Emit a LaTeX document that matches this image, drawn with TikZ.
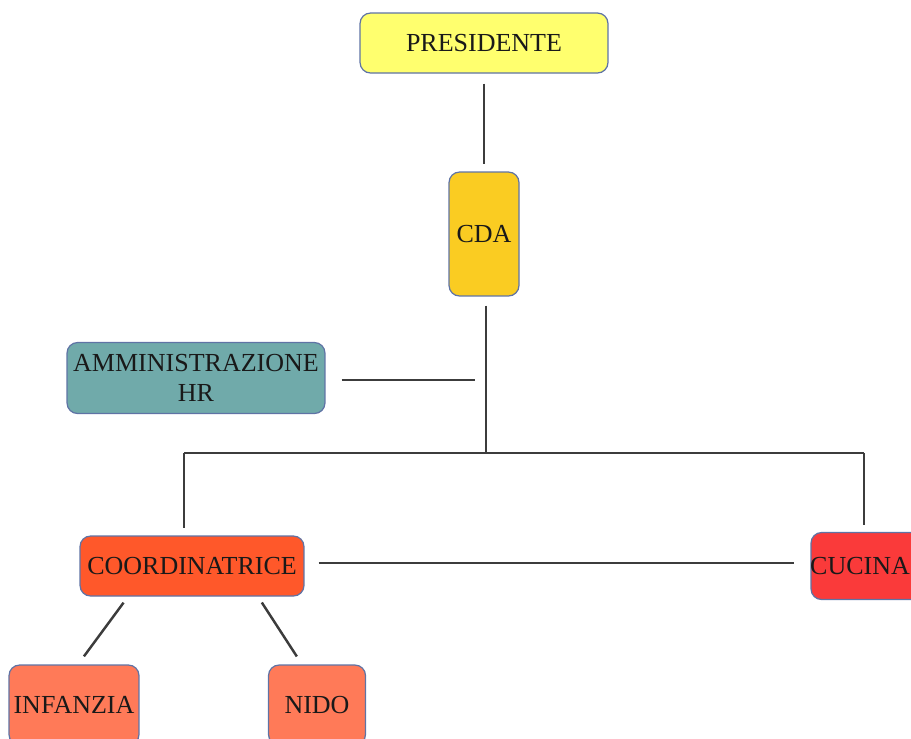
\documentclass[tikz,border=0pt]{standalone}
\usepackage{fontspec}
\setmainfont{Liberation Serif}

\definecolor{presyellow}{RGB}{255,255,110}
\definecolor{cdagold}{RGB}{250,204,34}
\definecolor{hrteal}{RGB}{112,170,170}
\definecolor{coordred}{RGB}{255,88,42}
\definecolor{cucinared}{RGB}{250,58,58}
\definecolor{unitorange}{RGB}{255,122,88}
\definecolor{boxline}{RGB}{95,115,165}
\definecolor{linkgray}{RGB}{60,60,60}

\begin{document}
\begin{tikzpicture}[x=0.02cm, y=-0.02cm,
    box/.style={draw=boxline, line width=0.7pt, rounded corners=6pt, align=center,
      inner sep=0pt, font=\fontsize{14.8}{17}\selectfont, text=black!90},
    link/.style={draw=linkgray, line width=1.4pt}]
    \useasboundingbox (0, 0) rectangle (911, 738);
    \node [box, fill=presyellow, minimum width=4.96cm, minimum height=1.2cm] (pres) at (484, 43) {PRESIDENTE};
    \node [box, fill=cdagold, minimum width=1.4cm, minimum height=2.48cm] (cda) at (484, 234) {CDA};
    \node [box, fill=hrteal, minimum width=5.16cm, minimum height=1.42cm] (hr) at (196, 378) {AMMINISTRAZIONE\\HR};
    \node [box, fill=coordred, minimum width=4.48cm, minimum height=1.2cm] (coord) at (192, 566) {COORDINATRICE};
    \node [box, fill=cucinared, minimum width=2.28cm, minimum height=1.34cm] (cucina) at (868, 566) {\hspace*{-0.32cm}CUCINA};
    \node [box, fill=unitorange, minimum width=2.6cm, minimum height=1.6cm] (infanzia) at (74, 705) {INFANZIA};
    \node [box, fill=unitorange, minimum width=1.94cm, minimum height=1.6cm] (nido) at (317, 705) {NIDO};
    \coordinate (bus) at (486, 453);
    \coordinate (busl) at (184, 453);
    \coordinate (busr) at (864, 453);
    \coordinate (hrend) at (475, 380);
    \draw [link, shorten <=0.2cm, shorten >=0.14cm] (pres.south) -- (cda.north);
    \draw [link, shorten <=0.18cm] (cda.south -| bus) -- (bus);
    \draw [link, shorten <=0.32cm] (hr.east |- hrend) -- (hrend);
    \draw [link] (busl) -- (busr);
    \draw [link, shorten >=0.14cm] (busl) -- (coord.north -| busl);
    \draw [link, shorten >=0.14cm] (busr) -- (cucina.north -| busr);
    \draw [link, shorten <=0.28cm, shorten >=0.32cm] ([yshift=0.06cm]coord.east) -- ([yshift=0.06cm]cucina.west);
    \draw [link, shorten <=0.15cm, shorten >=0.2cm] ([xshift=-1.28cm]coord.south) -- ([xshift=0.08cm]infanzia.north);
    \draw [link, shorten <=0.14cm, shorten >=0.19cm] ([xshift=1.32cm]coord.south) -- ([xshift=-0.3cm]nido.north);
\end{tikzpicture}
\end{document}
